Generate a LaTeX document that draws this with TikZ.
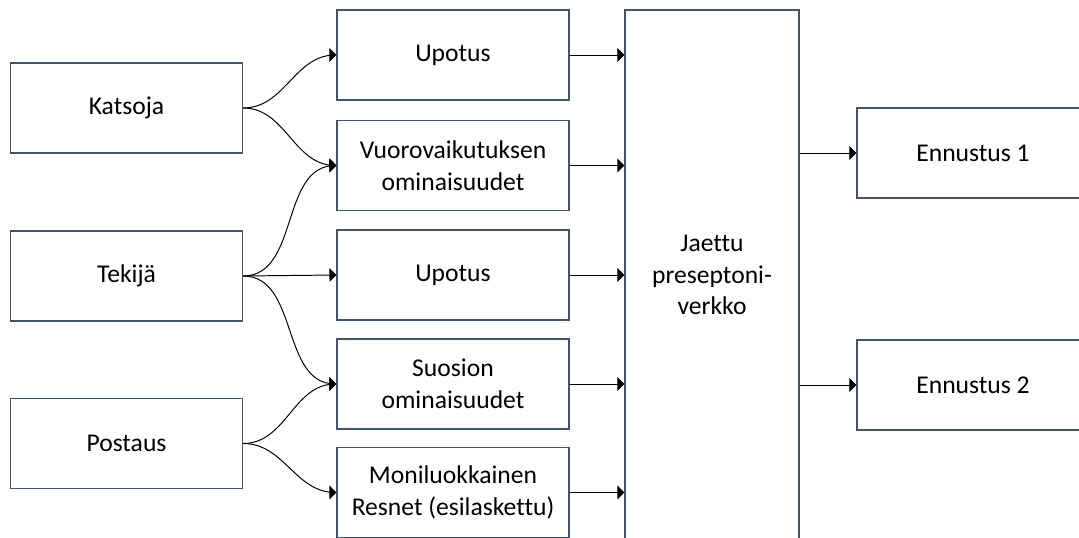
\documentclass[tikz,border=0pt]{standalone}
\usepackage{fontspec}
\setmainfont[Ligatures=NoCommon]{Carlito}
\usepackage{tikz}
\usetikzlibrary{arrows}
\definecolor{boxline}{RGB}{68,84,106}

\begin{document}
\begin{tikzpicture}[x=0.025cm,y=-0.025cm,
        box/.style={draw=boxline,line width=0.9pt,minimum width=5.8cm,minimum height=2.25cm,
                align=center,inner sep=0pt,font=\fontsize{18.2}{22.5}\selectfont},
        link/.style={-triangle 90,line width=0.7pt,black}]
        \useasboundingbox (0,0) rectangle (1079,538);
        \clip (0,0) rectangle (1079,538);
        \fill [white] (0,0) rectangle (1079,538);
        % inputs
        \node[box] (katsoja) at (126.5,108) {Katsoja};
        \node[box] (tekija) at (126.5,276) {Tekijä};
        \node[box] (postaus) at (126.5,443.5) {Postaus};
        % features
        \node[box] (upotusA) at (453,55) {Upotus};
        \node[box] (vuoro) at (453,165.5) {Vuorovaikutuksen\\ominaisuudet};
        \node[box] (upotusB) at (453,275) {Upotus};
        \node[box] (suosio) at (453,384) {Suosion\\ominaisuudet};
        \node[box] (resnet) at (453,492.5) {Moniluokkainen\\Resnet (esilaskettu)};
        % shared network
        \node[box,minimum width=4.35cm,minimum height=13.25cm] (jaettu) at (712,275) {Jaettu\\preseptoni-\\verkko};
        % outputs
        \node[box] (ennA) at (973,153) {Ennustus 1};
        \node[box] (ennB) at (973,385) {Ennustus 2};
        \draw[link] (katsoja.east) to[out=0,in=180] (upotusA.west);
        \draw[link] (katsoja.east) to[out=0,in=180] (vuoro.west);
        \draw[link] (tekija.east) to[out=0,in=180] (vuoro.west);
        \draw[link] (tekija.east) -- (upotusB.west);
        \draw[link] (tekija.east) to[out=0,in=180] (suosio.west);
        \draw[link] (postaus.east) to[out=0,in=180] (suosio.west);
        \draw[link] (postaus.east) to[out=0,in=180] (resnet.west);
        \draw[link] (upotusA.east) -- (upotusA.east -| jaettu.west);
        \draw[link] (vuoro.east) -- (vuoro.east -| jaettu.west);
        \draw[link] (upotusB.east) -- (upotusB.east -| jaettu.west);
        \draw[link] (suosio.east) -- (suosio.east -| jaettu.west);
        \draw[link] (resnet.east) -- (resnet.east -| jaettu.west);
        \draw[link] (ennA.west -| jaettu.east) -- (ennA.west);
        \draw[link] (ennB.west -| jaettu.east) -- (ennB.west);
\end{tikzpicture}
\end{document}
